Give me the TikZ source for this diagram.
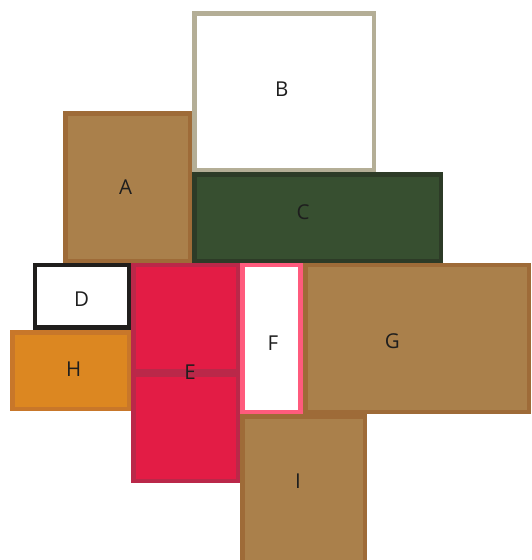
\documentclass[tikz,border=0pt]{standalone}
\usepackage{fontspec}
\setmainfont{Open Sans}
\definecolor{brownfill}{HTML}{AA804B}
\definecolor{brownline}{HTML}{9E6B38}
\definecolor{bline}{HTML}{B4AE96}
\definecolor{cfill}{HTML}{374F30}
\definecolor{cline}{HTML}{2D3B27}
\definecolor{dline}{HTML}{201E1C}
\definecolor{efill}{HTML}{E31C45}
\definecolor{eline}{HTML}{BA2849}
\definecolor{fline}{HTML}{FF5B7D}
\definecolor{hfill}{HTML}{DC8721}
\definecolor{hline}{HTML}{C8772A}
\definecolor{txt}{HTML}{1E1E1E}
\begin{document}
\begin{tikzpicture}[x=1pt,y=-1pt,
  box/.style={draw, line width=4.5pt, inner sep=0pt, outer sep=0pt, anchor=north west},
  lbl/.style={anchor=base, inner sep=0pt, text=txt, font=\fontsize{20.5}{24}\selectfont}]
\useasboundingbox (0,0) rectangle (531,560);
% boxes: anchor at (x1+2.25, y1+2.25), size (w-4.5, h-4.5)
\node[box, draw=brownline, fill=brownfill, minimum width=124.5pt, minimum height=147.5pt] (A) at (65.25,113.25) {};
\node[box, draw=bline, fill=white, minimum width=179.5pt, minimum height=156.5pt] (B) at (194.25,13.25) {};
\node[box, draw=cline, fill=cfill, minimum width=246.5pt, minimum height=86.5pt] (C) at (194.25,174.25) {};
\node[box, draw=dline, fill=white, minimum width=93.8pt, minimum height=62.5pt] (D) at (34.95,265.0) {};
\node[box, draw=eline, fill=efill, minimum width=104.5pt, minimum height=106.5pt] (E1) at (133.25,265.0) {};
\node[box, draw=eline, fill=efill, minimum width=104.5pt, minimum height=106.5pt] (E2) at (133.25,374.25) {};
\node[box, draw=brownline, fill=brownfill, minimum width=223.5pt, minimum height=147pt] (G) at (305.25,265.0) {};
\node[box, draw=fline, fill=white, minimum width=58.2pt, minimum height=147pt] (F) at (242.25,265.0) {};
\node[box, draw=hline, fill=hfill, minimum width=116.5pt, minimum height=76.5pt] (H) at (12.25,332.25) {};
\node[box, draw=brownline, fill=brownfill, minimum width=122.5pt, minimum height=160pt] (I) at (242.25,416.25) {};
% labels
\node[lbl] (tA) at (125.7,194.3) {A};
\node[lbl] (tB) at (281.7,96.8) {B};
\node[lbl] (tC) at (303,219) {C};
\node[lbl] (tD) at (81.7,306.8) {D};
\node[lbl] (tE) at (190,379.6) {E};
\node[lbl] (tF) at (273,350.3) {F};
\node[lbl] (tG) at (392.3,348.5) {G};
\node[lbl] (tH) at (73.8,376.8) {H};
\node[lbl] (tI) at (298,488.1) {I};
\end{tikzpicture}
\end{document}
